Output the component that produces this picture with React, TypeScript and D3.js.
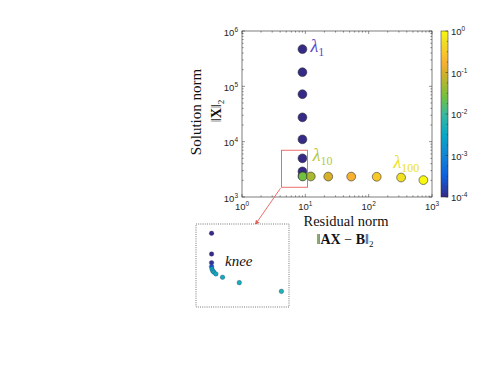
import React from "react";
import * as d3 from "d3";

// main L-curve points
const residualNorm = [9, 9, 9, 9, 9, 9, 9, 9, 9.1, 12.2, 23, 53, 134, 325, 731];
const solutionNorm = [4.7e5, 1.8e5, 7.2e4, 2.75e4, 1.1e4, 5.0e3, 2.9e3, 2.4e3, 2.35e3, 2.35e3, 2340, 2340, 2320, 2250, 2020];
const logLambda = [-4, -4, -4, -4, -4, -4, -4, -4, -1.6, -1.28, -1.0, -0.76, -0.52, -0.24, 0];

// zoomed knee (inset), same units as the red box
const boxResidual = [4.2, 10.8];
const boxSolution = [1500, 7000];
const insetResidual = [4.92, 4.92, 4.92, 4.92, 4.94, 4.98, 5.04, 5.14, 5.5, 6.52, 10.0];
const insetSolution = [5890, 4010, 3410, 3170, 3035, 2925, 2855, 2770, 2605, 2357, 2006];
const insetLogLambda = [-4, -4, -3.9, -3.6, -2.5, -2.45, -2.4, -2.4, -2.4, -2.35, -2.25];

const xTickExps = [0, 1, 2, 3];
const yTickExps = [3, 4, 5, 6];
const cbTickExps = [-4, -3, -2, -1, 0];

const lambdaLabels = [
  { idx: 0, sub: "1", color: "#5a4cc6", dx: 8, dy: 3 },
  { idx: 8, sub: "10", color: "#b6c83e", dx: 10, dy: -15 },
  { idx: 14, sub: "100", color: "#ebe126", dx: -30, dy: -12 },
];

// parula-like colour map
const parulaPos = [0, 0.125, 0.25, 0.375, 0.5, 0.6, 0.68, 0.75, 0.81, 0.87, 0.94, 1];
const parulaCol = ["#352a87", "#0f5fe0", "#1385d6", "#07a8c6", "#38b99e", "#70c040", "#a8b830", "#d8b028", "#f8b030", "#f8c828", "#f0e020", "#f8f810"];
const parula = d3.scaleLinear<string>().domain(parulaPos).range(parulaCol).interpolate(d3.interpolateRgb).clamp(true);

const W = 495, H = 383;
const plot = { left: 242, right: 432, top: 31, bottom: 197 };
const cb = { left: 441, right: 448 };
const inset = { left: 196, right: 289, top: 224, bottom: 307 };

const axisColor = "#262626";
const tickFont = "'Liberation Sans', Arial, sans-serif";
const serif = "'Liberation Serif', 'Times New Roman', serif";

function Pow({ x, y, exp, anchor }: { x: number; y: number; exp: number; anchor: string }) {
  return (
    <text x={x} y={y} textAnchor={anchor} fontFamily={tickFont} fontSize={9.5} fill={axisColor}>
      10<tspan fontSize={6.5} dy={-4}>{exp}</tspan>
    </text>
  );
}

export default function App() {
  const x = d3.scaleLog().domain([1, 1000]).range([plot.left, plot.right]);
  const y = d3.scaleLog().domain([1e3, 1e6]).range([plot.bottom, plot.top]);
  const c = d3.scaleLinear().domain([-4, 0]).range([0, 1]).clamp(true);
  const cy = d3.scaleLinear().domain([-4, 0]).range([plot.bottom, plot.top]);

  const ix = d3.scaleLog().domain(boxResidual).range([inset.left, inset.right]);
  const iy = d3.scaleLog().domain(boxSolution).range([inset.bottom, inset.top]);

  const xTicks = x.ticks();
  const yTicks = y.ticks();
  const cbMinor = d3.range(-4, 0.001, 0.25);

  const rx0 = x(boxResidual[0]), rx1 = x(boxResidual[1]);
  const ry0 = y(boxSolution[1]), ry1 = y(boxSolution[0]);

  const gradStops = d3.range(0, 1.0001, 0.02);

  return (
    <svg width={W} height={H} style={{ position: "absolute", left: 0, top: 0, background: "#fff" }}>
      <defs>
        <linearGradient id="cbGrad" x1="0" y1="1" x2="0" y2="0">
          {gradStops.map((t, i) => (
            <stop key={i} offset={t} stopColor={parula(t)} />
          ))}
        </linearGradient>
        <marker id="arrow" viewBox="0 0 10 10" refX="9" refY="5" markerWidth="6" markerHeight="6" orient="auto">
          <path d="M0,1 L10,5 L0,9 z" fill="#e8605a" />
        </marker>
      </defs>

      {/* main axes box */}
      <rect x={plot.left} y={plot.top} width={plot.right - plot.left} height={plot.bottom - plot.top} fill="#fff" stroke={axisColor} strokeWidth={0.6} />
      {xTicks.map((t, i) => {
        const major = Number.isInteger(Math.log10(t));
        const len = major ? 3 : 1.6;
        return (
          <g key={"xt" + i} stroke={axisColor} strokeWidth={0.5}>
            <line x1={x(t)} x2={x(t)} y1={plot.bottom} y2={plot.bottom - len} />
            <line x1={x(t)} x2={x(t)} y1={plot.top} y2={plot.top + len} />
          </g>
        );
      })}
      {yTicks.map((t, i) => {
        const major = Number.isInteger(Math.log10(t));
        const len = major ? 3 : 1.6;
        return (
          <g key={"yt" + i} stroke={axisColor} strokeWidth={0.5}>
            <line x1={plot.left} x2={plot.left + len} y1={y(t)} y2={y(t)} />
            <line x1={plot.right} x2={plot.right - len} y1={y(t)} y2={y(t)} />
          </g>
        );
      })}
      {xTickExps.map((e) => (
        <Pow key={"xl" + e} x={x(Math.pow(10, e))} y={plot.bottom + 13} exp={e} anchor="middle" />
      ))}
      {yTickExps.map((e) => (
        <Pow key={"yl" + e} x={plot.left - 4} y={y(Math.pow(10, e)) + 4.5} exp={e} anchor="end" />
      ))}

      {/* axis titles */}
      <text x={346} y={226} textAnchor="middle" fontFamily={serif} fontSize={14.5} fill="#111">Residual norm</text>
      <text x={345} y={244} textAnchor="middle" fontFamily={serif} fontSize={14} fill="#111">
        ‖<tspan fontWeight="bold">AX</tspan> − <tspan fontWeight="bold">B</tspan>‖<tspan fontSize={9} dy={3}>2</tspan>
      </text>
      <text transform="translate(201,112) rotate(-90)" textAnchor="middle" fontFamily={serif} fontSize={15} fill="#111">Solution norm</text>
      <text transform="translate(221,111) rotate(-90)" textAnchor="middle" fontFamily={serif} fontSize={14} fill="#111">
        ‖<tspan fontWeight="bold">X</tspan>‖<tspan fontSize={9} dy={3}>2</tspan>
      </text>

      {/* points */}
      {residualNorm.map((r, i) => (
        <circle key={"p" + i} cx={x(r)} cy={y(solutionNorm[i])} r={4.4} fill={parula(c(logLambda[i]))} stroke="#333" strokeWidth={0.6} />
      ))}

      {lambdaLabels.map((l) => (
        <text key={"lam" + l.sub} x={x(residualNorm[l.idx]) + l.dx} y={y(solutionNorm[l.idx]) + l.dy} fontFamily={serif} fontSize={18} fill={l.color}>
          <tspan fontStyle="italic">λ</tspan>
          <tspan fontSize={12} dy={4}>{l.sub}</tspan>
        </text>
      ))}

      {/* red zoom box and arrow */}
      <rect x={rx0} y={ry0} width={rx1 - rx0} height={ry1 - ry0} fill="none" stroke="#e8605a" strokeWidth={0.9} />
      <line x1={rx0 - 1} y1={ry1 + 1} x2={255} y2={225} stroke="#e8605a" strokeWidth={0.9} markerEnd="url(#arrow)" />

      {/* colorbar */}
      <rect x={cb.left} y={plot.top} width={cb.right - cb.left} height={plot.bottom - plot.top} fill="url(#cbGrad)" stroke={axisColor} strokeWidth={0.5} />
      {cbMinor.map((v, i) => (
        <line key={"cbt" + i} x1={cb.right} x2={cb.right - (Number.isInteger(v) ? 2.5 : 1.2)} y1={cy(v)} y2={cy(v)} stroke={axisColor} strokeWidth={0.5} />
      ))}
      {cbTickExps.map((e) => (
        <Pow key={"cl" + e} x={cb.right + 3} y={cy(e) + 4} exp={e} anchor="start" />
      ))}

      {/* inset */}
      <rect x={inset.left} y={inset.top} width={inset.right - inset.left} height={inset.bottom - inset.top} fill="#fff" stroke="#555" strokeWidth={0.8} strokeDasharray="1 1.2" />
      {insetResidual.map((r, i) => (
        <circle key={"ip" + i} cx={ix(r)} cy={iy(insetSolution[i])} r={2.3} fill={parula(c(insetLogLambda[i]))} stroke="#2a2a55" strokeWidth={0.3} />
      ))}
      <text x={225} y={266} fontFamily={serif} fontStyle="italic" fontSize={15} fill="#111">knee</text>
    </svg>
  );
}
